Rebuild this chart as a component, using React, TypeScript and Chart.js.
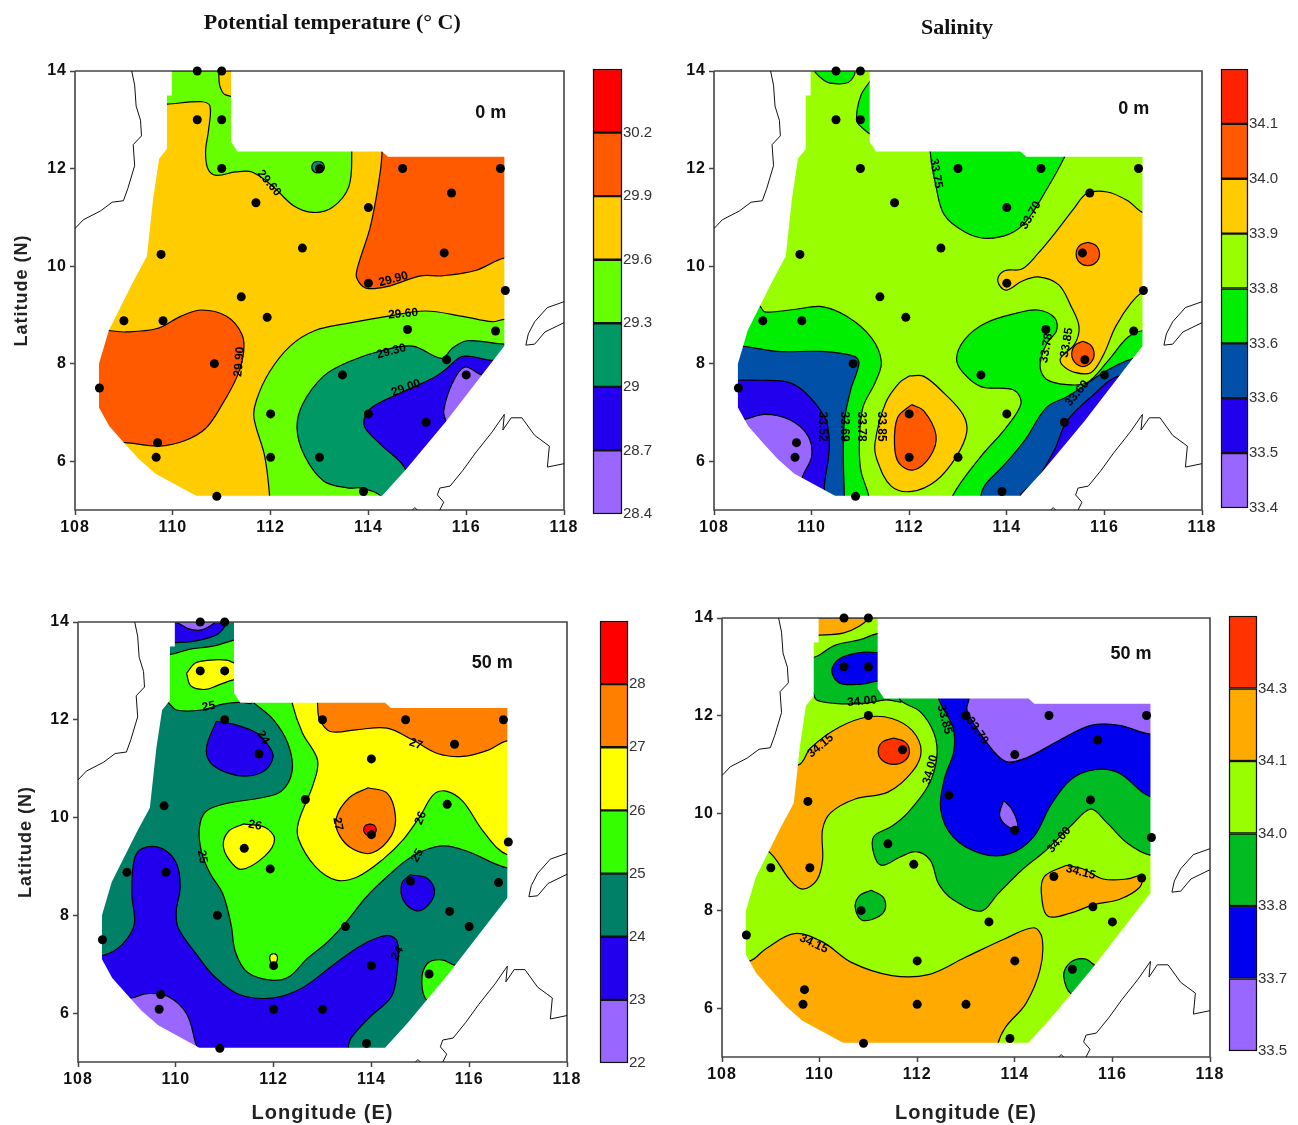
import React, { useEffect, useRef } from "react";
import { Chart, registerables } from "chart.js";

Chart.register(...registerables);

type Pt = [number, number];

const lonTicks = [108, 110, 112, 114, 116, 118];
const latTicks = [6, 8, 10, 12, 14];

const stationLon = [110.5, 111, 110.5, 111, 111, 113, 114.7, 116.7, 115.7, 111.7, 114, 112.65, 115.55, 109.76, 114, 116.8, 111.4, 111.93, 109, 109.8, 114.8, 116.6, 115.6, 110.85, 113.47, 116, 108.5, 112, 114, 115.18, 109.69, 109.66, 112, 113, 113.9, 110.9];
const stationLat = [14, 14, 13, 13, 12, 12, 12, 12, 11.5, 11.3, 11.2, 10.37, 10.27, 10.24, 9.65, 9.5, 9.37, 8.95, 8.88, 8.88, 8.7, 8.67, 8.08, 8, 7.77, 7.77, 7.5, 6.97, 6.97, 6.8, 6.38, 6.08, 6.08, 6.08, 5.38, 5.28];

const domainEdge: Pt[] = [[109.98, 14], [111.19, 14], [111.19, 12.55], [111.32, 12.35], [114.28, 12.35], [114.4, 12.24], [116.78, 12.24], [116.78, 8.36], [115.59, 6.82], [114.75, 5.81], [114.28, 5.29], [110.48, 5.29], [109.64, 5.75], [109.3, 6.05], [109.0, 6.38], [108.7, 6.72], [108.49, 7.1], [108.49, 8.0], [108.69, 8.68], [109.2, 9.7], [109.47, 10.2], [109.6, 11.4], [109.72, 12.2], [109.88, 12.4], [109.88, 13.5], [109.98, 13.5], [109.98, 14]];
const wholeMap: Pt[] = [[108, 14], [118, 14], [118, 5], [108, 5], [108, 14]];

const coastWest: Pt[] = [[109.16, 14], [109.22, 13.71], [109.25, 13.28], [109.34, 12.99], [109.36, 12.67], [109.19, 12.49], [109.22, 12.06], [109.08, 11.59], [108.99, 11.34], [108.76, 11.31], [108.52, 11.13], [108.17, 10.95], [108, 10.77]];
const coastPalawan: Pt[] = [[118, 9.27], [117.66, 9.15], [117.4, 8.86], [117.27, 8.61], [117.22, 8.38], [117.4, 8.4], [117.61, 8.65], [118, 8.84]];
const coastBorneo: Pt[] = [[118, 5.95], [117.66, 5.88], [117.7, 6.31], [117.4, 6.53], [117.14, 6.89], [116.92, 6.89], [116.75, 6.64], [116.78, 6.96], [116.53, 6.6], [116.19, 6.17], [115.93, 5.81], [115.67, 5.49], [115.46, 5.45], [115.41, 5.31], [115.54, 5.16], [115.46, 5]];
const coastSpit: Pt[] = [[114.9, 5], [114.95, 5.05], [115, 5]];

const purple = "#9966FF";
const blue = "#2200EE";
const navy = "#0050A8";
const tealA = "#009966";
const tealC = "#008066";
const limeA = "#66FF00";
const lime = "#99FF00";
const green = "#00EE00";
const greenC = "#33FF00";
const greenD = "#00BB22";
const amber = "#FFCC00";
const amberD = "#FFAA00";
const yellow = "#FFFF00";
const orange = "#FF5A00";
const orangeC = "#FF8000";
const red = "#FF0000";
const redD = "#FF3300";

// Panel A: potential temperature, 0 m
const a1Lime: Pt[] = [[109.5, 13.3], [109.88, 13.32], [110.59, 13.37], [110.76, 13.28], [110.73, 12.78], [110.67, 12.35], [110.72, 11.99], [110.89, 11.86], [111.28, 11.93], [111.62, 11.93], [112.05, 11.63], [112.48, 11.23], [112.87, 11.1], [113.26, 11.2], [113.6, 11.63], [113.66, 12.35], [113.66, 13.5], [113.66, 14], [109.5, 14], [109.5, 13.3]];
const a2Amber: Pt[] = [[110.94, 14], [110.96, 13.7], [111.08, 13.51], [111.6, 13.48], [111.6, 14], [110.94, 14]];
const a3Teal: Pt[] = [[112.97, 12.15], [113.06, 12.12], [113.1, 12.03], [113.06, 11.94], [112.97, 11.91], [112.88, 11.94], [112.84, 12.03], [112.88, 12.12], [112.97, 12.15]];
const a4Orange: Pt[] = [[114.28, 12.6], [114.28, 12.35], [114.25, 11.99], [114.16, 11.41], [114.03, 10.77], [113.78, 9.98], [113.76, 9.76], [113.95, 9.55], [114.38, 9.58], [115.07, 9.8], [115.5, 9.8], [116.19, 9.91], [116.79, 10.17], [117.4, 10.17], [117.4, 12.6], [114.28, 12.6]];
const a5Orange: Pt[] = [[108.2, 8.68], [108.67, 8.68], [109.03, 8.65], [109.68, 8.72], [110.16, 8.97], [110.59, 9.1], [111.1, 8.97], [111.41, 8.61], [111.45, 8.25], [111.32, 7.75], [111.02, 7.18], [110.67, 6.67], [110.24, 6.42], [109.72, 6.31], [109.02, 6.38], [108.2, 6.38], [108.2, 8.68]];
const a6Lime: Pt[] = [[111.98, 5], [111.98, 5.29], [111.88, 6.1], [111.66, 6.89], [111.71, 7.25], [111.97, 7.82], [112.4, 8.36], [112.91, 8.68], [113.6, 8.83], [114.38, 8.97], [115.16, 9.08], [115.93, 8.97], [116.53, 8.86], [116.79, 8.91], [117.6, 8.91], [117.6, 5], [111.98, 5]];
const a7Teal: Pt[] = [[114.25, 5], [114.25, 5.29], [113.86, 5.45], [113.6, 5.45], [113.09, 5.59], [112.7, 6.1], [112.54, 6.67], [112.66, 7.18], [113.09, 7.75], [113.6, 8.04], [114.21, 8.25], [114.9, 8.36], [115.5, 8.11], [115.72, 8.32], [116.02, 8.47], [116.79, 8.4], [117.6, 8.4], [117.6, 5], [114.25, 5]];
const a8Blue: Pt[] = [[114.77, 5], [114.77, 5.81], [114.21, 6.38], [113.91, 6.74], [114.03, 7.07], [114.64, 7.39], [115.33, 7.71], [115.59, 7.89], [115.93, 8.15], [116.53, 8.07], [117.6, 8.07], [117.6, 5], [114.77, 5]];
const a9Purple: Pt[] = [[115.6, 6], [115.59, 6.78], [115.54, 7.03], [115.72, 7.61], [115.97, 7.93], [116.36, 7.75], [117, 7.75], [117, 6], [115.6, 6]];

// Panel B: salinity, 0 m
const b1Green: Pt[] = [[110.05, 14], [110.2, 13.85], [110.38, 13.75], [110.76, 13.77], [110.87, 14], [110.05, 14]];
const b2Green: Pt[] = [[111.22, 13.82], [111.01, 13.5], [110.92, 13], [111.02, 12.85], [111.3, 12.7], [112, 13.5], [111.22, 13.82]];
const b3Green: Pt[] = [[112.43, 13], [112.43, 12.35], [112.55, 11.63], [112.72, 11.05], [113.14, 10.7], [113.56, 10.57], [114.06, 10.66], [114.39, 10.91], [114.81, 11.56], [115.18, 12.23], [115.5, 13], [112.43, 13]];
const b4Green: Pt[] = [[112.89, 5], [112.89, 5.29], [113.47, 6.1], [113.97, 6.67], [114.29, 7.18], [114.14, 7.46], [113.47, 7.53], [113.1, 7.82], [112.97, 8.11], [113.14, 8.5], [113.56, 8.83], [114.22, 9.04], [114.64, 9.1], [114.98, 8.94], [115.02, 8.68], [114.81, 8.4], [114.68, 7.97], [114.81, 7.68], [115.23, 7.57], [115.64, 7.61], [116.06, 8.04], [116.48, 8.54], [116.81, 8.68], [117.6, 8.68], [117.6, 5], [112.89, 5]];
const b5Amber: Pt[] = [[117.4, 11.09], [116.81, 11.09], [116.48, 11.34], [116.06, 11.52], [115.64, 11.49], [115.39, 11.2], [115.06, 10.77], [114.64, 10.26], [114.31, 9.94], [113.97, 9.91], [113.82, 9.76], [113.87, 9.58], [114.01, 9.51], [114.31, 9.69], [114.64, 9.78], [115.06, 9.62], [115.31, 9.19], [115.48, 8.76], [115.39, 8.4], [115.1, 8.11], [115.14, 7.97], [115.39, 7.82], [115.73, 7.82], [115.98, 8.18], [116.23, 8.76], [116.56, 9.26], [116.81, 9.47], [117.4, 9.47], [117.4, 11.09]];
const b6Orange: Pt[] = [[115.66, 10.49], [115.83, 10.42], [115.9, 10.25], [115.83, 10.08], [115.66, 10.01], [115.49, 10.08], [115.42, 10.25], [115.49, 10.42], [115.66, 10.49]];
const b7Orange: Pt[] = [[115.56, 8.46], [115.72, 8.38], [115.79, 8.2], [115.72, 8.02], [115.56, 7.94], [115.4, 8.02], [115.33, 8.2], [115.4, 8.38], [115.56, 8.46]];
const b8Amber: Pt[] = [[112.01, 7.75], [112.3, 7.74], [112.72, 7.39], [113.1, 6.96], [113.18, 6.6], [112.97, 6.1], [112.55, 5.6], [112.05, 5.38], [111.63, 5.49], [111.34, 6.03], [111.3, 6.38], [111.51, 7.18], [111.8, 7.61], [112.01, 7.75]];
const b9Orange: Pt[] = [[112.05, 7.16], [112.3, 7.03], [112.55, 6.53], [112.43, 6.1], [112.09, 5.82], [111.8, 5.95], [111.7, 6.31], [111.76, 6.89], [112.05, 7.16]];
const b10Navy: Pt[] = [[113.47, 5], [113.47, 5.29], [113.56, 5.52], [113.97, 5.95], [114.39, 6.46], [114.81, 7.1], [115.23, 7.32], [115.56, 7.53], [115.98, 7.82], [116.65, 8.12], [117.6, 8.12], [117.6, 5], [113.47, 5]];
const b11Blue: Pt[] = [[114.27, 5], [114.27, 5.29], [114.6, 5.6], [114.98, 6.24], [115.23, 6.82], [115.73, 7.32], [116.31, 7.75], [117.6, 7.75], [117.6, 5], [114.27, 5]];
const b12Green: Pt[] = [[108.2, 9.19], [108.92, 9.19], [109.04, 9.06], [109.63, 9.11], [110.21, 9.17], [110.72, 8.97], [111.22, 8.54], [111.43, 8.04], [111.3, 7.61], [111.05, 7.1], [110.98, 6.38], [111.01, 5.81], [111.17, 5.29], [111.17, 5], [108.2, 5], [108.2, 9.19]];
const b13Navy: Pt[] = [[108.2, 8.36], [108.58, 8.36], [109.29, 8.25], [110.21, 8.25], [110.88, 8.15], [110.97, 8], [110.8, 7.46], [110.67, 6.82], [110.65, 6.1], [110.67, 5.29], [110.67, 5], [108.2, 5], [108.2, 8.36]];
const b14Blue: Pt[] = [[108.2, 7.66], [108.46, 7.66], [108.96, 7.66], [109.55, 7.61], [109.96, 7.32], [110.3, 6.82], [110.36, 6.24], [110.26, 5.49], [110.26, 5], [108.2, 5], [108.2, 7.66]];
const b15Purple: Pt[] = [[108.2, 6.85], [108.58, 6.85], [109.04, 6.96], [109.55, 6.85], [109.92, 6.53], [110, 6.1], [109.8, 5.63], [109.8, 5], [108.2, 5], [108.2, 6.85]];

// Panel C: potential temperature, 50 m
const c1Blue: Pt[] = [[109.5, 13.58], [110.01, 13.58], [110.44, 13.62], [110.87, 13.76], [111, 14], [109.5, 14], [109.5, 13.58]];
const c2Purple: Pt[] = [[110.01, 14], [110.27, 13.86], [110.53, 13.84], [110.78, 14], [110.01, 14]];
const c3Green: Pt[] = [[111.22, 13.64], [111.56, 13.64], [111.56, 12.36], [111.34, 12.36], [110.96, 12.32], [110.53, 12.2], [110.01, 12.2], [109.82, 12.37], [109.66, 12.37], [109.66, 13.34], [109.91, 13.34], [110.27, 13.44], [110.78, 13.51], [111.22, 13.64]];
const c4Yellow: Pt[] = [[110.22, 12.95], [110.4, 13.16], [110.7, 13.22], [111.04, 13.22], [111.25, 13.15], [111.7, 13.2], [111.7, 12.8], [111.25, 12.83], [110.87, 12.71], [110.61, 12.62], [110.31, 12.69], [110.22, 12.95]];
const c5Green: Pt[] = [[111.6, 12.34], [111.99, 12.01], [112.29, 11.52], [112.38, 10.96], [112.16, 10.54], [111.73, 10.4], [111.04, 10.29], [110.61, 10.12], [110.48, 9.77], [110.53, 9.28], [110.7, 8.86], [110.96, 8.44], [111.13, 7.81], [111.22, 7.25], [111.47, 6.83], [111.99, 6.67], [112.34, 6.76], [112.68, 7.11], [113.11, 7.46], [113.5, 7.88], [113.89, 8.37], [114.32, 8.79], [114.84, 9.21], [115.44, 9.42], [115.96, 9.31], [116.78, 8.97], [117.6, 8.97], [117.6, 12.6], [111.6, 12.6], [111.6, 12.34]];
const c6Yellow: Pt[] = [[112.38, 12.6], [112.38, 12.34], [112.59, 11.73], [112.9, 11.17], [112.81, 10.68], [112.51, 9.91], [112.51, 9.56], [112.85, 9], [113.28, 8.72], [113.72, 8.79], [114.23, 9.14], [114.66, 9.56], [115.01, 10.05], [115.27, 10.47], [115.53, 10.54], [115.87, 10.33], [116.3, 9.7], [116.78, 9.24], [117.6, 9.24], [117.6, 12.6], [112.38, 12.6]];
const c7Orange: Pt[] = [[112.9, 12.6], [112.9, 12.29], [112.94, 12.01], [113.16, 11.76], [113.72, 11.8], [114.32, 11.83], [114.84, 11.59], [115.35, 11.31], [115.87, 11.25], [116.39, 11.38], [116.78, 11.57], [117.6, 11.57], [117.6, 12.6], [112.9, 12.6]];
const c8Orange: Pt[] = [[113.93, 10.61], [114.32, 10.5], [114.49, 10.05], [114.41, 9.63], [114.02, 9.28], [113.63, 9.35], [113.35, 9.63], [113.28, 9.98], [113.54, 10.4], [113.93, 10.61]];
const c9Red: Pt[] = [[113.97, 9.87], [114.06, 9.84], [114.1, 9.75], [114.06, 9.66], [113.97, 9.63], [113.88, 9.66], [113.84, 9.75], [113.88, 9.84], [113.97, 9.87]];
const c10Yellow: Pt[] = [[111.39, 9.87], [111.82, 9.8], [112.02, 9.56], [111.82, 9.21], [111.34, 8.94], [111.09, 9.14], [110.97, 9.45], [111.09, 9.73], [111.39, 9.87]];
const c11Yellow: Pt[] = [[112, 7.22], [112.06, 7.19], [112.08, 7.12], [112.06, 7.05], [112, 7.02], [111.94, 7.05], [111.92, 7.12], [111.94, 7.19], [112, 7.22]];
const c12Blue: Pt[] = [[110.83, 11.97], [111.22, 11.9], [111.65, 11.73], [111.91, 11.45], [111.99, 11.24], [111.82, 10.96], [111.47, 10.85], [111.04, 10.92], [110.7, 11.13], [110.63, 11.45], [110.83, 11.97]];
const c13Blue: Pt[] = [[108.2, 7.18], [108.52, 7.18], [108.89, 7.39], [109.15, 7.81], [109.1, 8.44], [109.15, 9.14], [109.32, 9.37], [109.71, 9.37], [110.01, 9.07], [110.09, 8.58], [110.01, 8.09], [110.05, 7.74], [110.44, 7.18], [110.78, 6.76], [111.3, 6.38], [111.99, 6.31], [112.59, 6.52], [113.2, 6.97], [113.8, 7.39], [114.32, 7.59], [114.53, 7.46], [114.53, 6.9], [114.41, 6.34], [113.97, 5.92], [113.59, 5.5], [113.53, 5.33], [113.53, 5], [108.2, 5], [108.2, 7.18]];
const c14Purple: Pt[] = [[108.2, 6.31], [109.1, 6.31], [109.41, 6.4], [109.84, 6.34], [110.22, 5.99], [110.4, 5.4], [110.5, 5], [108.2, 5], [108.2, 6.31]];
const c15Blue: Pt[] = [[114.79, 8.83], [115.14, 8.76], [115.29, 8.51], [115.18, 8.23], [114.92, 8.09], [114.66, 8.3], [114.62, 8.65], [114.79, 8.83]];
const c16Green: Pt[] = [[116.5, 6.24], [115.18, 6.24], [115.03, 6.62], [115.14, 7.01], [115.44, 7.09], [115.74, 6.97], [116.5, 6.97], [116.5, 6.24]];

// Panel D: salinity, 50 m
const d1Orange: Pt[] = [[109.65, 13.65], [110, 13.65], [110.48, 13.69], [110.81, 13.83], [110.98, 14], [109.65, 14], [109.65, 13.65]];
const d2Green: Pt[] = [[109.48, 13.2], [109.9, 13.2], [110.31, 13.44], [110.81, 13.55], [111.23, 13.69], [111.73, 13.69], [111.73, 12.32], [111.36, 12.32], [110.9, 12.25], [110.31, 12.25], [109.94, 12.32], [109.83, 12.5], [109.48, 12.5], [109.48, 13.2]];
const d3Blue: Pt[] = [[111.73, 13.29], [111.23, 13.29], [110.81, 13.29], [110.4, 13.16], [110.25, 12.92], [110.4, 12.67], [110.81, 12.64], [111.23, 12.71], [111.73, 12.71], [111.73, 13.29]];
const d4Green: Pt[] = [[111.65, 12.6], [111.65, 12.32], [112.06, 12.08], [112.35, 11.62], [112.4, 11.13], [112.23, 10.57], [111.81, 10.01], [111.48, 9.73], [111.11, 9.52], [111.11, 9.17], [111.27, 8.93], [111.65, 9.1], [111.98, 9.21], [112.27, 9.03], [112.44, 8.55], [112.73, 8.23], [113.31, 7.99], [113.65, 8.34], [114.14, 8.83], [114.64, 9.24], [115.14, 9.73], [115.56, 10.08], [115.89, 9.8], [116.31, 9.38], [116.77, 9.14], [117.6, 9.14], [117.6, 12.6], [111.65, 12.6]];
const d5Blue: Pt[] = [[112.44, 12.6], [112.44, 12.34], [112.73, 11.76], [112.75, 11.27], [112.56, 10.71], [112.48, 10.08], [112.73, 9.52], [113.31, 9.17], [113.9, 9.17], [114.39, 9.52], [114.73, 10.15], [115.14, 10.68], [115.64, 10.89], [116.14, 10.82], [116.77, 10.34], [117.6, 10.34], [117.6, 12.6], [112.44, 12.6]];
const d6Purple: Pt[] = [[113.06, 12.6], [113.06, 12.34], [113.02, 12.11], [113.4, 11.48], [113.81, 11.06], [114.23, 11.13], [114.89, 11.48], [115.56, 11.8], [116.14, 11.8], [116.77, 11.62], [117.6, 11.62], [117.6, 12.6], [113.06, 12.6]];
const d7Purple: Pt[] = [[113.77, 10.26], [113.94, 10.08], [114.06, 9.73], [113.9, 9.7], [113.69, 9.94], [113.77, 10.26]];
const d8Orange: Pt[] = [[108.4, 9.24], [108.92, 9.24], [109.4, 8.62], [109.65, 8.44], [109.94, 8.62], [110.06, 9.03], [110.06, 9.66], [110.23, 10.01], [110.73, 10.29], [111.4, 10.43], [111.9, 10.85], [112.08, 11.27], [111.9, 11.69], [111.48, 11.94], [110.98, 11.97], [110.4, 11.76], [109.82, 11.34], [109.57, 10.99], [108.82, 10.99], [108.4, 9.24]];
const d9Red: Pt[] = [[111.52, 11.54], [111.75, 11.46], [111.84, 11.27], [111.75, 11.08], [111.52, 11], [111.29, 11.08], [111.2, 11.27], [111.29, 11.46], [111.52, 11.54]];
const d10Green: Pt[] = [[111.06, 8.42], [111.31, 8.27], [111.34, 8.02], [111.15, 7.85], [110.86, 7.81], [110.73, 8.06], [110.81, 8.3], [111.06, 8.42]];
const d11Orange: Pt[] = [[115.06, 8.93], [115.39, 8.86], [115.81, 8.65], [116.31, 8.65], [116.6, 8.72], [116.56, 8.48], [116.14, 8.23], [115.64, 8.13], [115.14, 7.95], [114.69, 7.88], [114.56, 8.2], [114.6, 8.69], [115.06, 8.93]];
const d12Orange: Pt[] = [[108.2, 6.97], [108.58, 6.97], [108.9, 7.22], [109.48, 7.53], [110.06, 7.36], [110.65, 6.94], [111.48, 6.67], [112.23, 6.69], [112.98, 7.04], [113.81, 7.43], [114.39, 7.65], [114.56, 7.43], [114.52, 6.8], [114.23, 6.1], [113.81, 5.61], [113.65, 5.26], [113.65, 5], [108.2, 5], [108.2, 6.97]];
const d13Green: Pt[] = [[116.6, 6.27], [115.21, 6.27], [115, 6.66], [115.14, 6.94], [115.44, 7.01], [115.71, 6.85], [116.6, 6.85], [116.6, 6.27]];

type Region = [string, Pt[]];

const regionsA: Region[] = [[limeA, a1Lime], [amber, a2Amber], [tealA, a3Teal], [orange, a4Orange], [orange, a5Orange], [limeA, a6Lime], [tealA, a7Teal], [blue, a8Blue], [purple, a9Purple]];
const regionsB: Region[] = [[green, b1Green], [green, b2Green], [green, b3Green], [green, b4Green], [amber, b5Amber], [orange, b6Orange], [orange, b7Orange], [amber, b8Amber], [orange, b9Orange], [navy, b10Navy], [blue, b11Blue], [green, b12Green], [navy, b13Navy], [blue, b14Blue], [purple, b15Purple]];
const regionsC: Region[] = [[blue, c1Blue], [purple, c2Purple], [greenC, c3Green], [yellow, c4Yellow], [greenC, c5Green], [yellow, c6Yellow], [orangeC, c7Orange], [orangeC, c8Orange], [red, c9Red], [yellow, c10Yellow], [yellow, c11Yellow], [blue, c12Blue], [blue, c13Blue], [purple, c14Purple], [blue, c15Blue], [greenC, c16Green]];
const regionsD: Region[] = [[amberD, d1Orange], [greenD, d2Green], ["#0000EE", d3Blue], [greenD, d4Green], ["#0000EE", d5Blue], [purple, d6Purple], [purple, d7Purple], [amberD, d8Orange], [redD, d9Red], [greenD, d10Green], [amberD, d11Orange], [amberD, d12Orange], [greenD, d13Green]];

type Note = [string, number, number, number];

const contourLabelsA: Note[] = [["29.60", 111.97, 11.7, 50], ["29.90", 114.51, 9.73, -15], ["29.60", 114.71, 9.02, -5], ["29.30", 114.47, 8.25, -15], ["29.00", 114.77, 7.5, -20], ["29.90", 111.36, 8.04, -85]];
const contourLabelsB: Note[] = [["33.75", 112.55, 11.9, 80], ["33.70", 114.49, 11.04, -60], ["33.85", 115.23, 8.43, -80], ["33.78", 114.81, 8.32, -80], ["33.60", 115.44, 7.39, -50], ["33.52", 110.21, 6.71, 90], ["33.69", 110.67, 6.71, 90], ["33.78", 111.02, 6.71, 90], ["33.85", 111.43, 6.71, 90]];
const contourLabelsC: Note[] = [["25", 110.67, 12.27, -10], ["24", 111.78, 11.64, 60], ["26", 111.62, 9.84, 10], ["25", 110.54, 9.2, 80], ["27", 113.31, 9.87, 80], ["26", 115.01, 9.99, -70], ["25", 114.94, 9.22, -60], ["27", 114.91, 11.5, 20], ["24", 114.53, 7.22, -60]];
const contourLabelsD: Note[] = [["34.00", 110.87, 12.29, -5], ["34.15", 110.02, 11.38, -40], ["33.85", 112.56, 11.92, 75], ["33.70", 113.23, 11.69, 55], ["34.00", 112.27, 10.89, -75], ["34.00", 114.91, 9.45, -50], ["34.15", 115.35, 8.79, 15], ["34.15", 109.88, 7.32, 25]];

const tempTitle = "Potential temperature (° C)";
const salinityTitle = "Salinity";
const latitudeTitle = "Latitude (N)";
const longitudeTitle = "Longitude (E)";

const barLabelsA = ["28.4", "28.7", "29", "29.3", "29.6", "29.9", "30.2"];
const barColorsA = [purple, blue, tealA, limeA, amber, orange, red];
const barLabelsB = ["33.4", "33.5", "33.6", "33.6", "33.8", "33.9", "34.0", "34.1"];
const barColorsB = [purple, blue, navy, green, lime, amber, orange, "#FF2200"];
const barLabelsC = ["22", "23", "24", "25", "26", "27", "28"];
const barColorsC = [purple, blue, tealC, greenC, yellow, orangeC, red];
const barLabelsD = ["33.5", "33.7", "33.8", "34.0", "34.1", "34.3"];
const barColorsD = [purple, "#0000EE", greenD, lime, amberD, redD];

const toXY = (pts: Pt[]) => pts.map(([x, y]) => ({ x, y }));

type PanelCfg = {
  box: [number, number, number, number];
  plot: [number, number, number, number];
  base: string;
  regions: Region[];
  labels: Note[];
  depth: [string, number, number];
  heading?: [string, number, number];
  yTitle?: string;
  yTitleGap?: number;
  xTitle?: string;
};

type BarCfg = { bar: [number, number, number, number]; labels: string[]; colors: string[] };

const panels: PanelCfg[] = [
  { box: [0, 0, 590, 545], plot: [75, 71, 564, 510], base: amber, regions: regionsA, labels: contourLabelsA, depth: ["0 m", 116.5, 13.14], heading: [tempTitle, 113.26, 14.98], yTitle: latitudeTitle, yTitleGap: 11 },
  { box: [660, 0, 1225, 545], plot: [714, 71, 1202, 510], base: lime, regions: regionsB, labels: contourLabelsB, depth: ["0 m", 116.6, 13.22], heading: [salinityTitle, 112.98, 14.87] },
  { box: [0, 590, 595, 1125], plot: [78, 622, 567, 1062], base: tealC, regions: regionsC, labels: contourLabelsC, depth: ["50 m", 116.47, 13.16], yTitle: latitudeTitle, yTitleGap: 15, xTitle: longitudeTitle },
  { box: [660, 590, 1235, 1125], plot: [722, 618, 1210, 1057], base: lime, regions: regionsD, labels: contourLabelsD, depth: ["50 m", 116.38, 13.26], xTitle: longitudeTitle },
];

const bars: BarCfg[] = [
  { bar: [593, 69, 622, 514], labels: barLabelsA, colors: barColorsA },
  { bar: [1221, 69, 1248, 508], labels: barLabelsB, colors: barColorsB },
  { bar: [600, 621, 628, 1063], labels: barLabelsC, colors: barColorsC },
  { bar: [1229, 616, 1257, 1051], labels: barLabelsD, colors: barColorsD },
];

const SANS = '"Liberation Sans", Arial, sans-serif';

function makePanel(canvas: HTMLCanvasElement, p: PanelCfg) {
  const [bl, bt, br, bb] = p.box;
  const [pl, pt, pr, pb] = p.plot;
  const shape = (pts: Pt[], color: string, tension: number, borderWidth: number, label: string) => ({
    label,
    data: toXY(pts),
    backgroundColor: color,
    borderColor: "#000",
    borderWidth,
    fill: "shape",
    tension,
    pointRadius: 0,
  });
  const sets: any[] = [
    shape(wholeMap, p.base, 0, 0, "base"),
    ...p.regions.map(([c, pts], i) => shape(pts, c, 0.35, 1.2, "region " + i)),
    shape([[108, 14], [109.98, 14], ...[...domainEdge].reverse(), [118, 14], [118, 5], [108, 5], [108, 14]], "#FFFFFF", 0, 0, "land mask"),
    { label: "frame", data: toXY(wholeMap), borderColor: "#444", borderWidth: 1.6, fill: false, tension: 0, pointRadius: 0, clip: false },
    ...[coastWest, coastPalawan, coastBorneo, coastSpit].map((c, i) => ({ label: "coast " + i, data: toXY(c), borderColor: "#111", borderWidth: 1, fill: false, tension: 0, pointRadius: 0 })),
    { label: "stations", data: stationLon.map((x, i) => ({ x, y: stationLat[i] })), showLine: false, pointRadius: 4.5, pointBackgroundColor: "#000", pointBorderWidth: 0, clip: false },
  ];
  sets.forEach((s, i) => (s.order = sets.length - i));

  const notes = {
    id: "notes",
    beforeDraw(chart: any) {
      chart.ctx.letterSpacing = "1px";
    },
    afterDatasetsDraw(chart: any) {
      const { ctx, scales } = chart;
      const put = (t: string, x: number, y: number, rot: number, font: string, color = "#000") => {
        ctx.save();
        ctx.letterSpacing = "0px";
        ctx.translate(scales.x.getPixelForValue(x), scales.y.getPixelForValue(y));
        ctx.rotate((rot * Math.PI) / 180);
        ctx.font = font;
        ctx.fillStyle = color;
        ctx.textAlign = "center";
        ctx.textBaseline = "middle";
        ctx.fillText(t, 0, 0);
        ctx.restore();
      };
      p.labels.forEach(([t, x, y, r]) => put(t, x, y, r, `bold 12px ${SANS}`));
      put(p.depth[0], p.depth[1], p.depth[2], 0, `bold 18px ${SANS}`, "#111");
      if (p.heading) put(p.heading[0], p.heading[1], p.heading[2], 0, 'bold 22px "Liberation Serif", serif', "#111");
    },
  };

  const tickOpts = { color: "#111", font: { family: SANS, weight: "bold", size: 16 }, padding: 3, maxRotation: 0, autoSkip: false };
  const grid = { drawOnChartArea: false, drawTicks: true, tickLength: 5, tickWidth: 1.5, tickColor: "#444", color: "#444" };

  return new Chart(canvas, {
    type: "line",
    data: { datasets: sets },
    options: {
      responsive: false,
      animation: false,
      devicePixelRatio: 1,
      events: [],
      layout: { padding: { top: pt - bt, right: br - pr, left: 0, bottom: 0 } },
      plugins: { legend: { display: false }, tooltip: { enabled: false } },
      scales: {
        x: {
          type: "linear",
          min: 108,
          max: 118,
          grid,
          border: { display: false },
          ticks: tickOpts,
          afterBuildTicks: (s: any) => { s.ticks = lonTicks.map((value) => ({ value })); },
          afterFit: (s: any) => { s.height = bb - pb; },
          title: { display: !!p.xTitle, text: p.xTitle, color: "#222", font: { family: SANS, weight: "bold", size: 20 }, padding: { top: 0, bottom: 0 } },
        },
        y: {
          type: "linear",
          min: 5,
          max: 14,
          grid,
          border: { display: false },
          ticks: tickOpts,
          afterBuildTicks: (s: any) => { s.ticks = latTicks.map((value) => ({ value })); },
          afterFit: (s: any) => { s.width = pl - bl; },
          title: { display: !!p.yTitle, text: p.yTitle, color: "#222", font: { family: SANS, weight: "bold", size: 18 }, padding: { top: p.yTitleGap ?? 0, bottom: 0 } },
        },
      },
    } as any,
    plugins: [notes],
  } as any);
}

function makeBar(canvas: HTMLCanvasElement, b: BarCfg) {
  return new Chart(canvas, {
    type: "bar",
    data: {
      labels: [""],
      datasets: b.colors.map((c, i) => ({ label: b.labels[i], data: [1], backgroundColor: c, borderColor: "#111", borderWidth: 1.5, borderSkipped: false, barPercentage: 1, categoryPercentage: 1, clip: false })),
    },
    options: {
      responsive: false,
      animation: false,
      devicePixelRatio: 1,
      events: [],
      layout: { padding: { top: 12, left: 2, bottom: 12, right: 0 } },
      plugins: { legend: { display: false }, tooltip: { enabled: false } },
      scales: {
        x: { stacked: true, display: false },
        y: {
          stacked: true,
          position: "right",
          min: 0,
          max: b.colors.length,
          grid: { display: false, drawTicks: false },
          border: { display: false },
          ticks: { stepSize: 1, padding: 1, color: "#333", font: { family: SANS, size: 15 }, callback: (v: any) => b.labels[v] ?? "" },
          afterFit: (s: any) => { s.width = 45; },
        },
      },
    } as any,
  } as any);
}

export default function App() {
  const panelRefs = useRef<(HTMLCanvasElement | null)[]>([]);
  const barRefs = useRef<(HTMLCanvasElement | null)[]>([]);
  useEffect(() => {
    const charts: Chart[] = [];
    panels.forEach((p, i) => charts.push(makePanel(panelRefs.current[i]!, p)));
    bars.forEach((b, i) => charts.push(makeBar(barRefs.current[i]!, b)));
    return () => charts.forEach((c) => c.destroy());
  }, []);
  return (
    <div style={{ position: "absolute", left: 0, top: 0, width: 1298, height: 1125, overflow: "hidden", background: "#fff", filter: "blur(0.6px)" }}>
      {panels.map((p, i) => (
        <canvas
          key={i}
          ref={(el) => { panelRefs.current[i] = el; }}
          width={p.box[2] - p.box[0]}
          height={p.box[3] - p.box[1]}
          style={{ position: "absolute", left: p.box[0], top: p.box[1], width: p.box[2] - p.box[0], height: p.box[3] - p.box[1] }}
        />
      ))}
      {bars.map((b, i) => (
        <canvas
          key={i}
          ref={(el) => { barRefs.current[i] = el; }}
          width={b.bar[2] - b.bar[0] + 47}
          height={b.bar[3] - b.bar[1] + 24}
          style={{ position: "absolute", left: b.bar[0] - 2, top: b.bar[1] - 12, width: b.bar[2] - b.bar[0] + 47, height: b.bar[3] - b.bar[1] + 24 }}
        />
      ))}
    </div>
  );
}
